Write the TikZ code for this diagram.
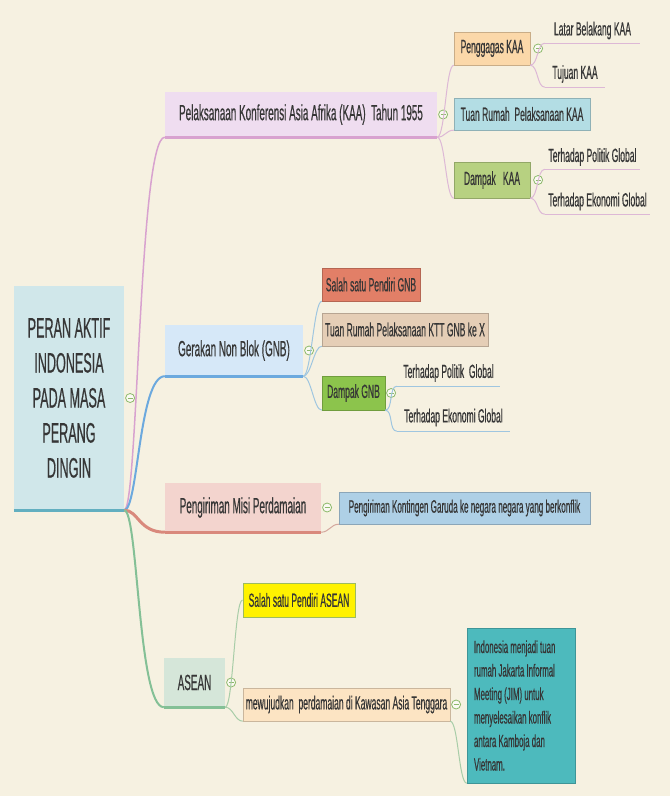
\documentclass[tikz,border=0pt]{standalone}
\usepackage{fontspec}
\setmainfont{Liberation Sans}[FakeStretch=0.45, FakeBold=0.5]
\usetikzlibrary{positioning, calc}
\definecolor{ink}{HTML}{363636}
\definecolor{paper}{HTML}{F6F1E1}
\definecolor{rootfill}{HTML}{D0E7EA}
\definecolor{rootline}{HTML}{62AFC0}
\definecolor{kaafill}{HTML}{EFDDF0}
\definecolor{kaaline}{HTML}{D8A2CF}
\definecolor{kaatwig}{HTML}{DDB8D6}
\definecolor{gnbfill}{HTML}{D6E8F8}
\definecolor{gnbline}{HTML}{6CA9DE}
\definecolor{gnbtwig}{HTML}{9FC6E0}
\definecolor{misifill}{HTML}{F3D4CE}
\definecolor{misiline}{HTML}{D9897C}
\definecolor{misitwig}{HTML}{D4A89E}
\definecolor{aseanfill}{HTML}{D5E6D9}
\definecolor{aseanline}{HTML}{84C096}
\definecolor{aseantwig}{HTML}{A8CDA8}
\definecolor{orangelt}{HTML}{FBD8A9}
\definecolor{teallt}{HTML}{B3DDE4}
\definecolor{olive}{HTML}{B7D181}
\definecolor{salmon}{HTML}{E27F67}
\definecolor{tan}{HTML}{E5CEB6}
\definecolor{grass}{HTML}{8CC44C}
\definecolor{skylt}{HTML}{AED0E6}
\definecolor{peach}{HTML}{FCE4C3}
\definecolor{tealdk}{HTML}{4DBABD}
\definecolor{yellowedge}{HTML}{9DBB5F}
\definecolor{togline}{HTML}{8DBA6C}
\tikzset{
  rootbox/.style={fill=rootfill, inner sep=0pt, align=center, text=ink,
                  font=\fontsize{28}{35}\selectfont},
  mainbox/.style={fill=#1, inner sep=0pt, align=center, text=ink,
                  font=\fontsize{22}{26}\selectfont},
  subbox/.style={fill=#1, draw=#1!80!black, line width=0.4pt, inner sep=0pt,
                 align=center, text=ink, font=\fontsize{19}{22}\selectfont},
  leaf/.style={inner sep=0pt, align=center, text=ink, font=\fontsize{19}{22}\selectfont},
  tog/.style={circle, draw=togline, fill=white!60!paper, line width=0.8pt,
              minimum size=9pt, inner sep=0pt,
              path picture={\draw[togline, line width=0.8pt]
                ([xshift=2pt]path picture bounding box.west) --
                ([xshift=-2pt]path picture bounding box.east);}},
  trunk/.style={out=0, in=180, out distance=14pt, in distance=26pt},
  twig/.style={line width=1pt, out=0, in=180, out distance=8pt, in distance=8pt},
  uline/.style={line width=3pt},
  lline/.style={line width=1.2pt},
}
\begin{document}
\begin{tikzpicture}[x=1pt, y=-1pt]
  \fill[paper] (0,0) rectangle (670,796);
  \useasboundingbox (0,0) rectangle (670,796);

  % central topic
  \node[rootbox, minimum width=110, minimum height=224] (root) at (69,398)
    {PERAN AKTIF\\INDONESIA\\PADA MASA\\PERANG\\DINGIN};

  % main branches
  \node[mainbox=kaafill, minimum width=272, minimum height=45] (kaa) at (301,114.5)
    {Pelaksanaan Konferensi Asia Afrika (KAA)\ \ Tahun 1955};
  \node[mainbox=gnbfill, minimum width=138, minimum height=51] (gnb) at (234,350.5)
    {Gerakan Non Blok (GNB)};
  \node[mainbox=misifill, minimum width=156, minimum height=49] (misi) at (243,507.5)
    {Pengiriman Misi Perdamaian};
  \node[mainbox=aseanfill, minimum width=61, minimum height=49] (asean) at (194.5,682.5)
    {ASEAN};

  % KAA
  \node[subbox=orangelt, minimum width=76, minimum height=33] (gagas) at (492,48.5) {Penggagas KAA};
  \node[subbox=teallt, minimum width=136, minimum height=32] (tuankaa) at (522,114) {Tuan Rumah\ \ Pelaksanaan KAA};
  \node[subbox=olive, minimum width=76, minimum height=36] (dampakkaa) at (492,180) {Dampak\ \ \ KAA};
  \node[leaf, minimum width=95, minimum height=25] (latar) at (592.5,30.5) {Latar Belakang KAA};
  \node[leaf, minimum width=60, minimum height=26] (tujuan) at (575,74) {Tujuan KAA};
  \node[leaf, minimum width=95, minimum height=24] (polkaa) at (592.5,157) {Terhadap Politik Global};
  \node[leaf, minimum width=105, minimum height=25] (ekokaa) at (597.5,201.5) {Terhadap Ekonomi Global};

  % GNB
  \node[subbox=salmon, minimum width=98, minimum height=33] (pendirignb) at (371,284.5) {Salah satu Pendiri GNB};
  \node[subbox=tan, minimum width=166, minimum height=33] (tuangnb) at (405,329.5) {Tuan Rumah Pelaksanaan KTT GNB ke X};
  \node[subbox=grass, minimum width=63, minimum height=34] (dampakgnb) at (353.5,393) {Dampak GNB};
  \node[leaf, minimum width=103, minimum height=26] (polgnb) at (448.5,373) {Terhadap Politik\ \ Global};
  \node[leaf, minimum width=113, minimum height=27] (ekognb) at (453.5,417.5) {Terhadap Ekonomi Global};

  % misi perdamaian
  \node[subbox=skylt, minimum width=251, minimum height=32, font=\fontsize{18}{22}\selectfont] (garuda) at (464.5,508)
    {Pengiriman Kontingen Garuda ke negara negara yang berkonflik};

  % ASEAN
  \node[subbox=yellow, draw=yellowedge, line width=1pt, minimum width=112, minimum height=34] (pendiriasean) at (299,600)
    {Salah satu Pendiri ASEAN};
  \node[subbox=peach, minimum width=207, minimum height=33] (wujud) at (346.5,704.5)
    {mewujudkan\ \ perdamaian di Kawasan Asia Tenggara};
  \node[subbox=tealdk, minimum width=108, minimum height=155, text width=94, align=flush left,
        font=\fontsize{17.5}{23.5}\selectfont] (jim) at (521,705.5)
    {Indonesia menjadi tuan\\rumah Jakarta Informal\\Meeting (JIM) untuk\\menyelesaikan konflik\\antara Kamboja dan\\Vietnam.};

  % collapse buttons
  \node[tog, right=1pt of root] (troot) {};
  \node[tog, right=1pt of kaa] (tkaa) {};
  \node[tog, right=3pt of gagas] (tgagas) {};
  \node[tog, right=3pt of dampakkaa] (tdampakkaa) {};
  \node[tog, right=1pt of gnb] (tgnb) {};
  \node[tog, right=1pt of dampakgnb] (tdampakgnb) {};
  \node[tog, right=1pt of misi] (tmisi) {};
  \node[tog, right=1pt of asean] (tasean) {};
  \node[tog, right=1pt of wujud] (twujud) {};

  % connectors
  \draw[trunk, kaaline, line width=1.5pt] (root.south east) to (kaa.south west);
  \draw[trunk, gnbline, line width=2pt] (root.south east) to (gnb.south west);
  \draw[trunk, misiline, line width=3pt] (root.south east) to (misi.south west);
  \draw[trunk, aseanline, line width=2pt] (root.south east) to (asean.south west);

  \draw[twig, kaatwig] (kaa.south east) to (gagas.south west);
  \draw[twig, kaatwig] (kaa.south east) to (tuankaa.south west);
  \draw[twig, kaatwig] (kaa.south east) to (dampakkaa.south west);
  \draw[twig, kaatwig] (gagas.south east) to (latar.south west);
  \draw[twig, kaatwig] (gagas.south east) to (tujuan.south west);
  \draw[twig, kaatwig] (dampakkaa.south east) to (polkaa.south west);
  \draw[twig, kaatwig] (dampakkaa.south east) to (ekokaa.south west);

  \draw[twig, gnbtwig] (gnb.south east) to (pendirignb.south west);
  \draw[twig, gnbtwig] (gnb.south east) to (tuangnb.south west);
  \draw[twig, gnbtwig] (gnb.south east) to (dampakgnb.south west);
  \draw[twig, gnbtwig] (dampakgnb.south east) to (polgnb.south west);
  \draw[twig, gnbtwig] (dampakgnb.south east) to (ekognb.south west);

  \draw[twig, misitwig] (misi.south east) to (garuda.south west);

  \draw[twig, aseantwig] (asean.south east) to (pendiriasean.west);
  \draw[twig, aseantwig] (asean.south east) to (wujud.south west);
  \draw[twig, aseantwig] (wujud.south east) to (jim.south west);

  % underlines
  \draw[uline, rootline] (root.south west) -- (root.south east);
  \draw[uline, kaaline] (kaa.south west) -- (kaa.south east);
  \draw[uline, gnbline] (gnb.south west) -- (gnb.south east);
  \draw[uline, misiline] (misi.south west) -- (misi.south east);
  \draw[uline, aseanline] (asean.south west) -- (asean.south east);
  \draw[lline, kaatwig] (latar.south west) -- (latar.south east);
  \draw[lline, kaatwig] (tujuan.south west) -- (tujuan.south east);
  \draw[lline, kaatwig] (polkaa.south west) -- (polkaa.south east);
  \draw[lline, kaatwig] (ekokaa.south west) -- (ekokaa.south east);
  \draw[lline, gnbtwig] (polgnb.south west) -- (polgnb.south east);
  \draw[lline, gnbtwig] (ekognb.south west) -- (ekognb.south east);
\end{tikzpicture}
\end{document}
